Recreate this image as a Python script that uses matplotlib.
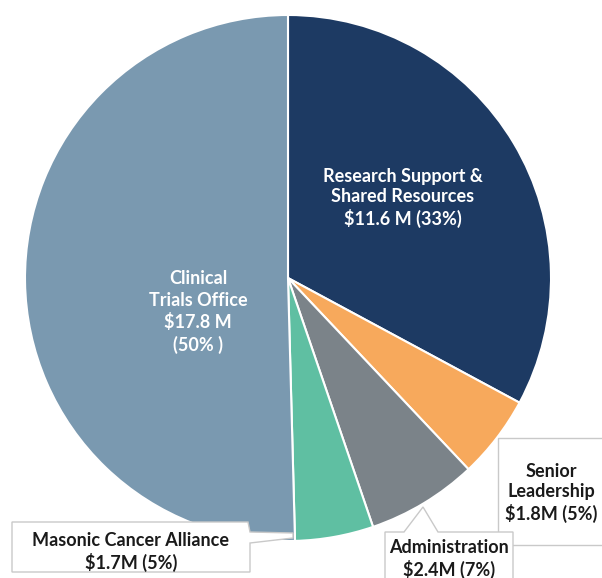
import matplotlib.pyplot as plt
from matplotlib.patches import Polygon

plt.rcParams['font.family'] = ['Lato', 'DejaVu Sans']

# budget by area, $M
areas = ['Research Support &\nShared Resources', 'Senior\nLeadership', 'Administration',
         'Masonic Cancer Alliance', 'Clinical\nTrials Office']
values = [11.6, 1.8, 2.4, 1.7, 17.8]
labels = ['Research Support &\nShared Resources\n$11.6 M (33%)',
          'Senior\nLeadership\n$1.8M (5%)',
          'Administration\n$2.4M (7%)',
          'Masonic Cancer Alliance\n$1.7M (5%)',
          'Clinical\nTrials Office\n$17.8 M\n(50% )']
colors = ['#1d3a63', '#f7a95c', '#7b8389', '#5fbfa2', '#7a99b0']

W, H = 602, 578
fig = plt.figure(figsize=(W/100, H/100), dpi=100)
ax = fig.add_axes([0, 0, 1, 1])

def Y(y):
    return H - y

cx, cy, r = 288, Y(278), 263
ax.pie(values, colors=colors, startangle=90, counterclock=False, center=(cx, cy), radius=r,
       wedgeprops={'edgecolor': 'white', 'linewidth': 1.5}, frame=True)
ax.set_xlim(0, W)
ax.set_ylim(0, H)
ax.axis('off')

# labels inside the pie
ax.text(403, Y(198), labels[0], color='white', fontsize=13, fontweight='bold',
        ha='center', va='center', linespacing=1.25, zorder=5)
ax.text(198, Y(312), labels[4], color='white', fontsize=13, fontweight='bold',
        ha='center', va='center', linespacing=1.3, zorder=5)

# callout boxes
box_kw = dict(facecolor='white', edgecolor='#c9c9c9', linewidth=1, zorder=4)
senior = [(498, 438), (603, 438), (603, 545), (498, 545)]
admin = [(385, 532), (404, 532), (423, 507), (438, 532), (513, 532), (513, 580), (385, 580)]
masonic = [(12, 522), (248, 522), (250, 532), (293, 533), (293, 538), (250, 543),
           (250, 572), (12, 572)]
for pts in [senior, admin, masonic]:
    ax.add_patch(Polygon([(x, Y(y)) for x, y in pts], closed=True, **box_kw))

ax.text(551, Y(493), labels[1], color='#1a1a1a', fontsize=13, fontweight='bold',
        ha='center', va='center', linespacing=1.2, zorder=5)
ax.text(449, Y(559), labels[2], color='#1a1a1a', fontsize=13, fontweight='bold',
        ha='center', va='center', linespacing=1.2, zorder=5)
ax.text(131, Y(552), labels[3], color='#1a1a1a', fontsize=13, fontweight='bold',
        ha='center', va='center', linespacing=1.2, zorder=5)

fig.savefig('out.png', dpi=100, facecolor='white')
